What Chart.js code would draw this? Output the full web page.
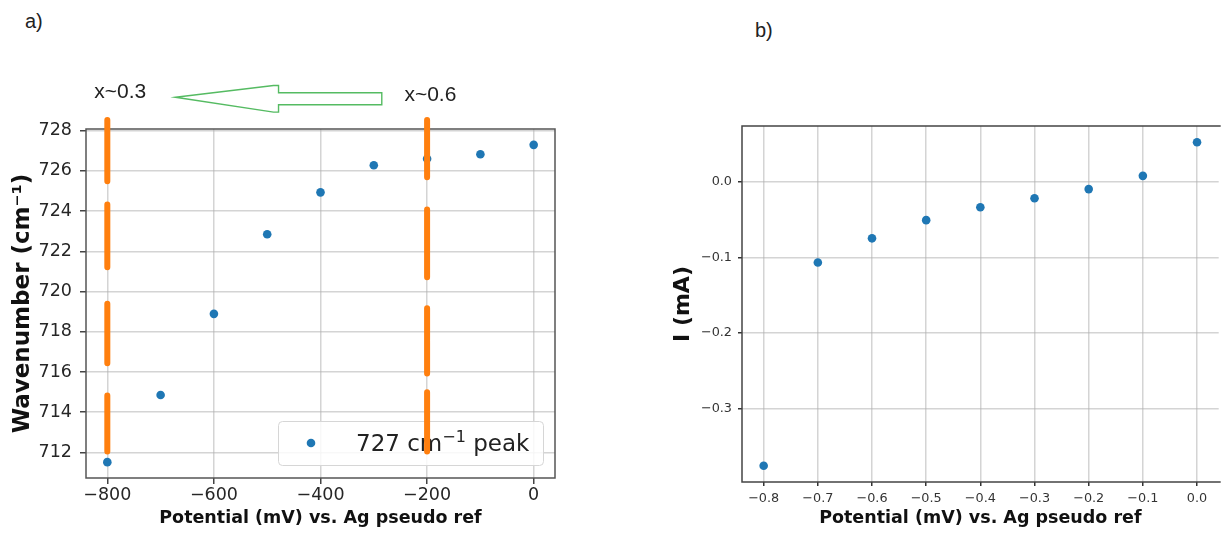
<!DOCTYPE html>
<html><head><meta charset="utf-8">
<script src="https://cdn.jsdelivr.net/npm/chart.js@4.4.1/dist/chart.umd.min.js"></script>
<style>
html,body{margin:0;padding:0;background:#fff;width:1223px;height:533px;overflow:hidden;position:relative}
canvas{position:absolute;top:0}
#c1{left:0}
#c2{left:620px}
.lab{position:absolute;font-family:"Liberation Sans",Arial,sans-serif;font-size:20px;color:#222;line-height:20px}
</style></head><body>
<div class="lab" style="left:25px;top:11px">a)</div>
<div class="lab" style="left:755px;top:20px">b)</div>
<canvas id="c1" width="600" height="533"></canvas>
<canvas id="c2" width="603" height="533"></canvas>
<script>
// ---------- data ----------
const potentialMV = [-800, -700, -600, -500, -400, -300, -200, -100, 0];
const wavenumber  = [711.52, 714.86, 718.89, 722.85, 724.93, 726.28, 726.6, 726.82, 727.29];
const potentialV  = [-0.8, -0.7, -0.6, -0.5, -0.4, -0.3, -0.2, -0.1, 0.0];
const currentMA   = [-0.3755, -0.107, -0.075, -0.051, -0.034, -0.022, -0.010, 0.0075, 0.052];

const leftXTicks  = [-800, -600, -400, -200, 0];
const leftYTicks  = [712, 714, 716, 718, 720, 722, 724, 726, 728];
const rightXTicks = [-0.8, -0.7, -0.6, -0.5, -0.4, -0.3, -0.2, -0.1, 0.0];
const rightYTicks = [-0.3, -0.2, -0.1, 0.0];

const legendLabel = '727 cm';
const legendSup = '\u22121';
const legendTail = ' peak';

// orange composition markers (x position, list of [top, bottom] wavenumber segments)
const markerXLow  = -800;
const markerSegsLow  = [[728.53, 725.48], [724.32, 721.21], [719.39, 716.44], [714.83, 712.05]];
const markerXHigh = -200;
const markerSegsHigh = [[728.53, 725.68], [724.08, 720.71], [719.17, 717.59], [717.56, 715.92], [714.99, 712.05]];

// annotations (data units of panel a)
const noteLabels = ['x~0.3', 'x~0.6'];
const noteX = [-775.7, -193.8];
const noteY = [729.93, 729.75];
const arrowTailX = -285, arrowTipX = -672, arrowY = 729.58;

// ---------- helpers ----------
function pad5(arr) { const mn = Math.min(...arr), mx = Math.max(...arr), r = mx - mn; return [mn - 0.05 * r, mx + 0.05 * r]; }
function pts(xs, ys) { return xs.map((x, i) => ({x, y: ys[i]})); }
function segData(x, segs) { const d = []; segs.forEach(s => { d.push({x, y: s[0]}, {x, y: s[1]}, {x, y: null}); }); return d; }
const minus = v => (v < 0 ? '\u2212' : '') + Math.abs(v);
const fixTicks = arr => (s => { s.ticks = arr.map(v => ({value: v})); });

const framePlugin = {
  id: 'frame',
  beforeDatasetsDraw(chart, args, opts) {
    const {ctx, chartArea: a} = chart;
    ctx.save();
    ctx.strokeStyle = opts.color || '#555';
    ctx.lineWidth = 1.5;
    ctx.beginPath();
    if (opts.open) {
      ctx.moveTo(a.right + 2, a.top); ctx.lineTo(a.left, a.top); ctx.lineTo(a.left, a.bottom); ctx.lineTo(a.right + 2, a.bottom);
    } else {
      ctx.rect(a.left, a.top, a.right - a.left, a.bottom - a.top);
    }
    ctx.stroke();
    if (opts.legend) {
      const w = 265, h = 44, x = a.right - 12 - w, y = a.bottom - 13 - h;
      ctx.beginPath();
      ctx.roundRect(x + 0.5, y + 0.5, w, h, 4);
      ctx.fillStyle = 'rgba(255,255,255,0.85)';
      ctx.fill();
      ctx.strokeStyle = '#d6d6d6';
      ctx.lineWidth = 1;
      ctx.stroke();
      ctx.beginPath();
      ctx.arc(x + 33, y + 22, 4.3, 0, Math.PI * 2);
      ctx.fillStyle = '#1f77b4';
      ctx.fill();
      ctx.fillStyle = '#222';
      ctx.textBaseline = 'alphabetic';
      ctx.textAlign = 'left';
      let tx = x + 78; const by = y + 30;
      ctx.font = '23px "DejaVu Sans"';
      ctx.fillText(legendLabel, tx, by); tx += ctx.measureText(legendLabel).width;
      ctx.font = '16px "DejaVu Sans"';
      ctx.fillText(legendSup, tx, by - 9); tx += ctx.measureText(legendSup).width;
      ctx.font = '23px "DejaVu Sans"';
      ctx.fillText(legendTail, tx, by);
    }
    ctx.restore();
  },
  afterDraw(chart, args, opts) {
    if (!opts.notes) return;
    const {ctx, scales: {x, y}} = chart;
    ctx.save();
    ctx.font = '21px "Liberation Sans"';
    ctx.fillStyle = '#222';
    ctx.textAlign = 'center';
    ctx.textBaseline = 'middle';
    noteLabels.forEach((t, i) => ctx.fillText(t, x.getPixelForValue(noteX[i]), y.getPixelForValue(noteY[i])));
    const tip = x.getPixelForValue(arrowTipX), tail = x.getPixelForValue(arrowTailX), cy = y.getPixelForValue(arrowY);
    const hb = tip + 103, sh = 6, hh = 13.3;
    ctx.beginPath();
    ctx.moveTo(tip, cy - 1.5);
    ctx.lineTo(hb - 5, cy - hh);
    ctx.lineTo(hb, cy - hh);
    ctx.lineTo(hb, cy - sh);
    ctx.lineTo(tail, cy - sh);
    ctx.lineTo(tail, cy + sh);
    ctx.lineTo(hb, cy + sh);
    ctx.lineTo(hb, cy + hh);
    ctx.lineTo(hb - 5, cy + hh);
    ctx.closePath();
    ctx.strokeStyle = '#55bb62';
    ctx.lineWidth = 1.4;
    ctx.stroke();
    ctx.restore();
  }
};

const gridCommon = {color: 'rgba(176,176,176,0.55)', lineWidth: 1.5, tickColor: '#444', tickWidth: 1.5};

// ---------- panel a ----------
const [lxMin, lxMax] = pad5(potentialMV);
const [lyMin, lyMax] = pad5(wavenumber);
new Chart(document.getElementById('c1'), {
  type: 'scatter',
  data: {datasets: [
    {label: 'low', data: segData(markerXLow, markerSegsLow), showLine: true, spanGaps: false, borderColor: '#ff7f0e', borderWidth: 6, borderCapStyle: 'round', pointRadius: 0, clip: false, order: 0},
    {label: 'high', data: segData(markerXHigh, markerSegsHigh), showLine: true, spanGaps: false, borderColor: '#ff7f0e', borderWidth: 6, borderCapStyle: 'round', pointRadius: 0, clip: false, order: 0},
    {label: '727 cm-1 peak', data: pts(potentialMV, wavenumber), backgroundColor: '#1f77b4', borderWidth: 0, pointRadius: 4.3, order: 1}
  ]},
  options: {
    responsive: false, animation: false, events: [], devicePixelRatio: 1,
    layout: {padding: {top: 129, right: 45, bottom: 0, left: 0}},
    plugins: {legend: {display: false}, tooltip: {enabled: false}, frame: {legend: true, notes: true, color: '#555'}},
    scales: {
      x: {type: 'linear', min: lxMin, max: lxMax, afterBuildTicks: fixTicks(leftXTicks), afterFit: s => { s.height = 55; },
        grid: {...gridCommon, tickLength: 6}, border: {display: false},
        ticks: {callback: v => minus(v), font: {family: 'DejaVu Sans', size: 17.5}, color: '#262626', padding: 1, maxRotation: 0, autoSkip: false},
        title: {display: true, text: 'Potential (mV) vs. Ag pseudo ref', font: {family: 'DejaVu Sans', size: 17.5, weight: 'bold'}, color: '#111', padding: {top: 0, bottom: 4.5}}},
      y: {type: 'linear', min: lyMin, max: lyMax, afterBuildTicks: fixTicks(leftYTicks), afterFit: s => { s.width = 86; },
        grid: {...gridCommon, tickLength: 6}, border: {display: false},
        ticks: {callback: v => minus(v), font: {family: 'DejaVu Sans', size: 17.5}, color: '#262626', padding: 8, autoSkip: false},
        title: {display: true, text: 'Wavenumber (cm\u207B\u00B9)', font: {family: 'DejaVu Sans', size: 23, weight: 'bold'}, color: '#111', padding: {top: 9, bottom: 0}}}
    }
  },
  plugins: [framePlugin]
});

// ---------- panel b ----------
const [rxMin, rxMax] = pad5(potentialV);
const [ryMin, ryMax] = pad5(currentMA);
const fmt1 = v => (v < -1e-9 ? '\u2212' : '') + Math.abs(v).toFixed(1);
new Chart(document.getElementById('c2'), {
  type: 'scatter',
  data: {datasets: [
    {label: 'I', data: pts(potentialV, currentMA), backgroundColor: '#1f77b4', borderWidth: 0, pointRadius: 4.3}
  ]},
  options: {
    responsive: false, animation: false, events: [], devicePixelRatio: 1,
    layout: {padding: {top: 126, right: 0, bottom: 0, left: 0}},
    plugins: {legend: {display: false}, tooltip: {enabled: false}, frame: {open: true, color: '#444'}},
    scales: {
      x: {type: 'linear', min: rxMin, max: rxMax, afterBuildTicks: fixTicks(rightXTicks), afterFit: s => { s.height = 51; },
        grid: {...gridCommon, tickLength: 4, tickColor: '#333'}, border: {display: false},
        ticks: {callback: v => fmt1(v), font: {family: 'DejaVu Sans', size: 12.8}, color: '#333', padding: 4.6, maxRotation: 0, autoSkip: false},
        title: {display: true, text: 'Potential (mV) vs. Ag pseudo ref', font: {family: 'DejaVu Sans', size: 17.5, weight: 'bold'}, color: '#111', padding: {top: 0, bottom: 4.5}}},
      y: {type: 'linear', min: ryMin, max: ryMax, afterBuildTicks: fixTicks(rightYTicks), afterFit: s => { s.width = 122; },
        grid: {...gridCommon, tickLength: 4, tickColor: '#333'}, border: {display: false},
        ticks: {callback: v => fmt1(v), font: {family: 'DejaVu Sans', size: 12.8}, color: '#333', padding: 6, autoSkip: false},
        title: {display: true, text: 'I (mA)', font: {family: 'DejaVu Sans', size: 22, weight: 'bold'}, color: '#111', padding: {top: 50, bottom: 0}}}
    }
  },
  plugins: [framePlugin]
});
</script>
</body></html>
